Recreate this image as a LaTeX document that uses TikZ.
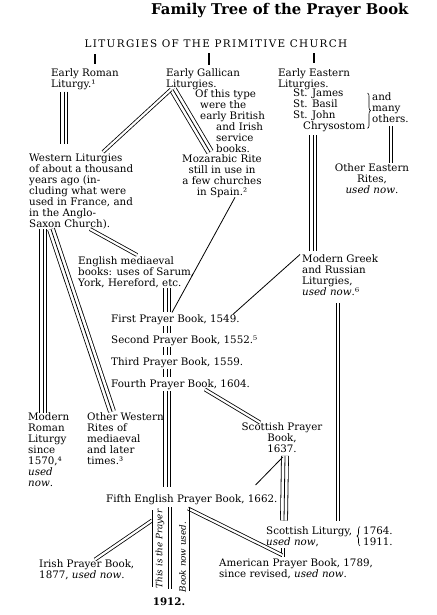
\documentclass[tikz,border=0pt]{standalone}
\usepackage{fontspec}
\setmainfont{DejaVu Serif}
\newfontfamily\capsfont[LetterSpace=13]{DejaVu Serif}
\usetikzlibrary{decorations.pathreplacing}

\tikzset{
  every node/.style={inner sep=0pt, font=\fontsize{10.3}{11}\selectfont},
  txt/.style={align=left},
  ctr/.style={align=center},
  tick/.style={line width=1.4pt},
  single/.style={line width=0.8pt},
  dbl/.style={double, double distance=2.2pt, line width=0.8pt},
  trpl/.style={draw=white, line width=6.2pt, preaction={draw=black, line width=7.8pt}, postaction={draw=black, line width=0.8pt}},
  brc/.style={decorate, decoration={brace, amplitude=3pt}, line width=0.6pt}
}

\begin{document}
\begin{tikzpicture}[x=1pt,y=-1pt]
\useasboundingbox (0,0) rectangle (436,615);
\node[anchor=base west, font=\fontsize{14.8}{16}\selectfont\bfseries] (title) at (151,15) {Family Tree of the Prayer Book};
\node[anchor=base, font=\fontsize{10.4}{11}\capsfont] (prim) at (216,48) {LITURGIES OF THE PRIMITIVE CHURCH};

\node[txt, anchor=north west] (roman) at (51,68) {Early Roman\\Liturgy.¹};
\node[txt, anchor=north west] (gallican) at (166,68) {Early Gallican\\Liturgies.};
\node[txt, anchor=north west] (eastern) at (278,68) {Early Eastern\\Liturgies.};
\node[txt, anchor=north west] (saints) at (293,89) {St. James\\St. Basil\\St. John\\\hspace*{10pt}Chrysostom};
\node[txt, anchor=north west] (others) at (372,92) {and\\many\\others.};
\node[txt, anchor=north west] (note) at (195,89) {Of this type\\\hspace*{5pt}were the\\\hspace*{5pt}early British\\\hspace*{21pt}and Irish\\\hspace*{21pt}service\\\hspace*{21pt}books.};
\node[ctr, anchor=north] (mozarabic) at (222,154) {Mozarabic Rite\\still in use in\\a few churches\\in Spain.²};
\node[txt, anchor=north west] (western) at (29,153.5) {Western Liturgies\\of about a thousand\\years ago (in-\\cluding what were\\used in France, and\\in the Anglo-\\Saxon Church).};
\node[ctr, anchor=north] (otherEastern) at (372,163.5) {Other Eastern\\Rites,\\\textit{used now}.};
\node[txt, anchor=north west] (english) at (78,256.5) {English mediaeval\\books: uses of Sarum,\\York, Hereford, etc.};
\node[txt, anchor=north west] (greek) at (302,254.5) {Modern Greek\\and Russian\\Liturgies,\\\textit{used now}.⁶};

\node[anchor=base west] (first) at (111,322.5) {First Prayer Book, 1549.};
\node[anchor=base west] (second) at (111,343.5) {Second Prayer Book, 1552.⁵};
\node[anchor=base west] (third) at (111,365) {Third Prayer Book, 1559.};
\node[anchor=base west] (fourth) at (111,387) {Fourth Prayer Book, 1604.};

\node[txt, anchor=north west] (modernRoman) at (28,412.5) {Modern\\Roman\\Liturgy\\since\\1570,⁴\\\textit{used}\\\textit{now}.};
\node[txt, anchor=north west] (otherWestern) at (87,412.5) {Other Western\\Rites of\\mediaeval\\and later\\times.³};
\node[ctr, anchor=north] (scottish) at (282,422.5) {Scottish Prayer\\Book,\\1637.};
\node[anchor=base west] (fifth) at (106,502) {Fifth English Prayer Book, 1662.};
\node[txt, anchor=north west] (scotLit) at (266,526.5) {Scottish Liturgy,\\\textit{used now},};
\node[txt, anchor=north west] (dates) at (363,526.5) {1764.\\1911.};
\node[txt, anchor=north west] (american) at (219,558.5) {American Prayer Book, 1789,\\since revised, \textit{used now}.};
\node[txt, anchor=north west] (irish) at (39,559.5) {Irish Prayer Book,\\1877, \textit{used now}.};
\node[rotate=90, font=\fontsize{8.8}{10}\selectfont\itshape] (prayer) at (160,549) {This is the Prayer};
\node[rotate=90, font=\fontsize{8.8}{10}\selectfont\itshape] (nowused) at (182.5,557) {Book now used.};
\node[anchor=base, font=\fontsize{10.3}{11}\selectfont\bfseries] (year) at (169,605) {1912.};

\draw[brc] ([xshift=2pt,yshift=-4pt]saints.north east) -- ([xshift=2pt,yshift=4pt]saints.south east);
\draw[brc] ([xshift=-3pt]dates.south west) -- ([xshift=-3pt]dates.north west);

\draw[tick] ([xshift=-121pt,yshift=-6pt]prim.south) -- ([xshift=44pt,yshift=4pt]roman.north west);
\draw[tick] ([xshift=-7pt,yshift=-5pt]prim.south) -- ([xshift=43pt,yshift=3pt]gallican.north west);
\draw[tick, line width=2.4pt] ([xshift=98pt,yshift=-5pt]prim.south) -- ([xshift=36pt,yshift=5pt]eastern.north west);

\draw[trpl] ([xshift=13pt,yshift=-2pt]roman.south west) -- ([xshift=35pt,yshift=10pt]western.north west);
\draw[trpl] ([xshift=7pt]gallican.south west) -- ([xshift=-12pt,yshift=2pt]mozarabic.north);
\draw[dbl] ([xshift=5pt]gallican.south west) -- ([xshift=74pt,yshift=1.5pt]western.north west);
\draw[trpl] ([xshift=22pt]western.south west) -- ([xshift=25pt,yshift=1pt]otherWestern.north west);
\draw[trpl] ([xshift=14pt]western.south west) -- ([xshift=15pt]modernRoman.north west);
\draw[dbl] ([xshift=61pt]western.south west) -- ([xshift=59pt,yshift=1.5pt]english.north west);
\draw[trpl] ([xshift=20pt,yshift=-3pt]saints.south west) -- ([xshift=11pt,yshift=4pt]greek.north west);
\draw[dbl] ([xshift=19pt,yshift=-4pt]others.south west) -- ([xshift=19pt,yshift=0.5pt]otherEastern.north);

\draw[trpl] ([xshift=89pt]english.south west) -- ([xshift=56pt,yshift=2pt]first.north west);
\draw[single] ([xshift=13pt]mozarabic.south) -- ([xshift=61pt,yshift=2pt]first.north west);
\draw[single] ([xshift=-2pt]greek.north west) -- ([xshift=-7pt]first.north east);
\draw[trpl] ([xshift=56pt,yshift=-1.5pt]first.south west) -- ([xshift=56pt,yshift=2pt]second.north west);
\draw[trpl] ([xshift=56pt,yshift=-1.5pt]second.south west) -- ([xshift=56pt,yshift=2pt]third.north west);
\draw[trpl] ([xshift=56pt,yshift=-1.5pt]third.south west) -- ([xshift=56pt,yshift=2pt]fourth.north west);
\draw[trpl] ([xshift=56pt,yshift=-2pt]fourth.south west) -- ([xshift=61pt,yshift=7pt]fifth.north west);
\draw[dbl] ([xshift=94pt]fourth.south west) -- ([xshift=-22pt]scottish.north);

\draw[trpl] ([xshift=3pt,yshift=-3pt]scottish.south) -- ([xshift=18pt,yshift=6pt]scotLit.north west);
\draw[single] ([xshift=-22pt,yshift=9pt]fifth.north east) -- ([xshift=1pt,yshift=-4pt]scottish.south);
\draw[dbl] ([xshift=36pt,yshift=-7pt]greek.south west) -- ([xshift=72pt,yshift=6pt]scotLit.north west);
\draw[dbl] ([xshift=17pt,yshift=-1pt]scotLit.south west) -- ([xshift=64pt,yshift=1.5pt]american.north west);

\draw[dbl] ([xshift=82pt,yshift=-4pt]fifth.south west) -- ([xshift=63pt,yshift=3.5pt]american.north west);
\draw[dbl] ([xshift=46pt,yshift=-16pt]fifth.south west) -- ([xshift=56pt]irish.north west);
\draw[single] ([xshift=46pt,yshift=-6pt]fifth.south west) -- ([xshift=-17pt,yshift=10pt]year.north);
\draw[dbl] ([xshift=64pt,yshift=-3pt]fifth.south west) -- ([xshift=1pt,yshift=8pt]year.north);
\draw[single] ([xshift=83pt,yshift=-4pt]fifth.south west) -- ([xshift=20pt,yshift=6pt]year.north);
\end{tikzpicture}
\end{document}
